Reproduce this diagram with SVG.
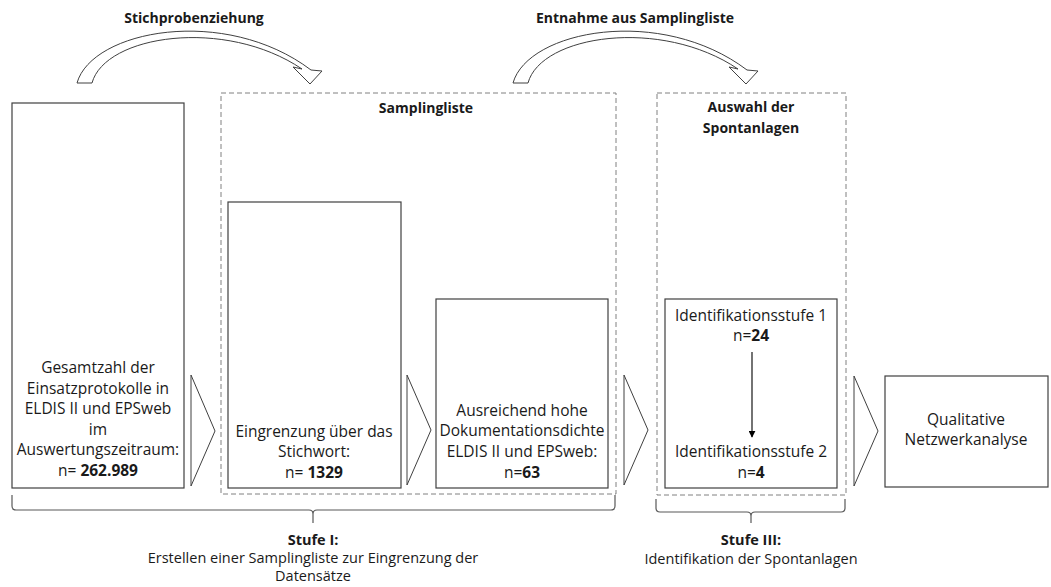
<svg xmlns="http://www.w3.org/2000/svg" width="1051" height="587" viewBox="0 0 1051 587">
  <defs>
    <style>
      text { font-family: "Open Sans", "Liberation Sans", sans-serif; fill: #1a1a1a; text-anchor: middle; }
      .t { font-size: 15.5px; }
      .h { font-size: 14px; font-weight: bold; }
      .s { font-size: 14.5px; }
      .box { fill: #fff; stroke: #404040; stroke-width: 1.2; }
      .grp { fill: none; stroke: #808080; stroke-width: 1; stroke-dasharray: 5 3; }
      .chev { fill: #fff; stroke: #404040; stroke-width: 1; stroke-linejoin: miter; }
      .curve { fill: #fff; stroke: #404040; stroke-width: 1; stroke-linejoin: round; }
      .brace { fill: none; stroke: #595959; stroke-width: 1.2; }
      .link { stroke: #000; stroke-width: 1.1; fill: none; }
    </style>
    <marker id="head" viewBox="0 0 10 10" refX="9" refY="5" markerWidth="7" markerHeight="7" orient="auto" markerUnits="userSpaceOnUse">
      <path d="M0,0 L10,5 L0,10 Z" fill="#000"/>
    </marker>
    <!-- curved block arrow, reused for both transfers -->
    <path id="bend" d="M77,83 C92,30 225,5 311,70 L322,71 L310,84 L293,67 L302,69 C225,17 105,35 92,83 Z"/>
  </defs>

  <rect width="1051" height="587" fill="#fff"/>

  <!-- transfer arrows above the stages -->
  <g id="transfer-1">
    <use href="#bend" class="curve"/>
    <text class="h" x="194" y="23">Stichprobenziehung</text>
  </g>
  <g id="transfer-2">
    <use href="#bend" class="curve" transform="translate(436,0)"/>
    <text class="h" x="635" y="23">Entnahme aus Samplingliste</text>
  </g>

  <!-- dashed stage groups -->
  <g id="samplingliste">
    <rect class="grp" x="221" y="93" width="395" height="401"/>
    <text class="h" x="426" y="113">Samplingliste</text>
  </g>
  <g id="auswahl">
    <rect class="grp" x="657" y="93" width="189" height="402"/>
    <text class="h" x="751" y="112">Auswahl der</text>
    <text class="h" x="751" y="133">Spontanlagen</text>
  </g>

  <!-- process boxes -->
  <g id="gesamtzahl">
    <rect class="box" x="12" y="103" width="172" height="385"/>
    <text class="t" x="98" y="373">Gesamtzahl der</text>
    <text class="t" x="98" y="394">Einsatzprotokolle in</text>
    <text class="t" x="98" y="414">ELDIS II und EPSweb</text>
    <text class="t" x="98" y="435">im</text>
    <text class="t" x="98" y="455">Auswertungszeitraum:</text>
    <text class="t" x="98" y="476">n= <tspan font-weight="bold">262.989</tspan></text>
  </g>
  <g id="eingrenzung">
    <rect class="box" x="228" y="202" width="173" height="286"/>
    <text class="t" x="314" y="437">Eingrenzung über das</text>
    <text class="t" x="314" y="457">Stichwort:</text>
    <text class="t" x="314" y="478">n= <tspan font-weight="bold">1329</tspan></text>
  </g>
  <g id="dokumentation">
    <rect class="box" x="436" y="299" width="172" height="189"/>
    <text class="t" x="522" y="416">Ausreichend hohe</text>
    <text class="t" x="522" y="436">Dokumentationsdichte</text>
    <text class="t" x="522" y="457">ELDIS II und EPSweb:</text>
    <text class="t" x="522" y="478">n=<tspan font-weight="bold">63</tspan></text>
  </g>
  <g id="identifikation">
    <rect class="box" x="665" y="299" width="172" height="189"/>
    <text class="t" x="751" y="321">Identifikationsstufe 1</text>
    <text class="t" x="751" y="341">n=<tspan font-weight="bold">24</tspan></text>
    <text class="t" x="751" y="457">Identifikationsstufe 2</text>
    <text class="t" x="751" y="478">n=<tspan font-weight="bold">4</tspan></text>
  </g>
  <g id="netzwerkanalyse">
    <rect class="box" x="885" y="376" width="163" height="111"/>
    <text class="t" x="966" y="425">Qualitative</text>
    <text class="t" x="966" y="445">Netzwerkanalyse</text>
  </g>

  <!-- connectors -->
  <g id="connectors">
    <polygon class="chev" points="191,375 215,431 191,486"/>
    <polygon class="chev" points="407,375 431,430 407,485"/>
    <polygon class="chev" points="624,375 648,430 624,485"/>
    <polygon class="chev" points="854,376 878,431 854,486"/>
    <line class="link" x1="752" y1="352" x2="752" y2="437" marker-end="url(#head)"/>
  </g>

  <!-- stage braces -->
  <g id="stufe-1">
    <path class="brace" d="M12,495 L12,506 Q12,510 16,510 L309,510 Q313,510 313,514 L313,523 M313,514 Q313,510 317,510 L611,510 Q615,510 615,506 L615,495"/>
    <text class="s" x="313" y="545" font-weight="bold">Stufe I:</text>
    <text class="s" x="313" y="563">Erstellen einer Samplingliste zur Eingrenzung der</text>
    <text class="s" x="313" y="581">Datensätze</text>
  </g>
  <g id="stufe-3">
    <path class="brace" d="M656,499 L656,508 Q656,512 660,512 L747,512 Q751,512 751,516 L751,523 M751,516 Q751,512 755,512 L841,512 Q845,512 845,508 L845,499"/>
    <text class="s" x="751" y="545" font-weight="bold">Stufe III:</text>
    <text class="s" x="751" y="564">Identifikation der Spontanlagen</text>
  </g>
</svg>
